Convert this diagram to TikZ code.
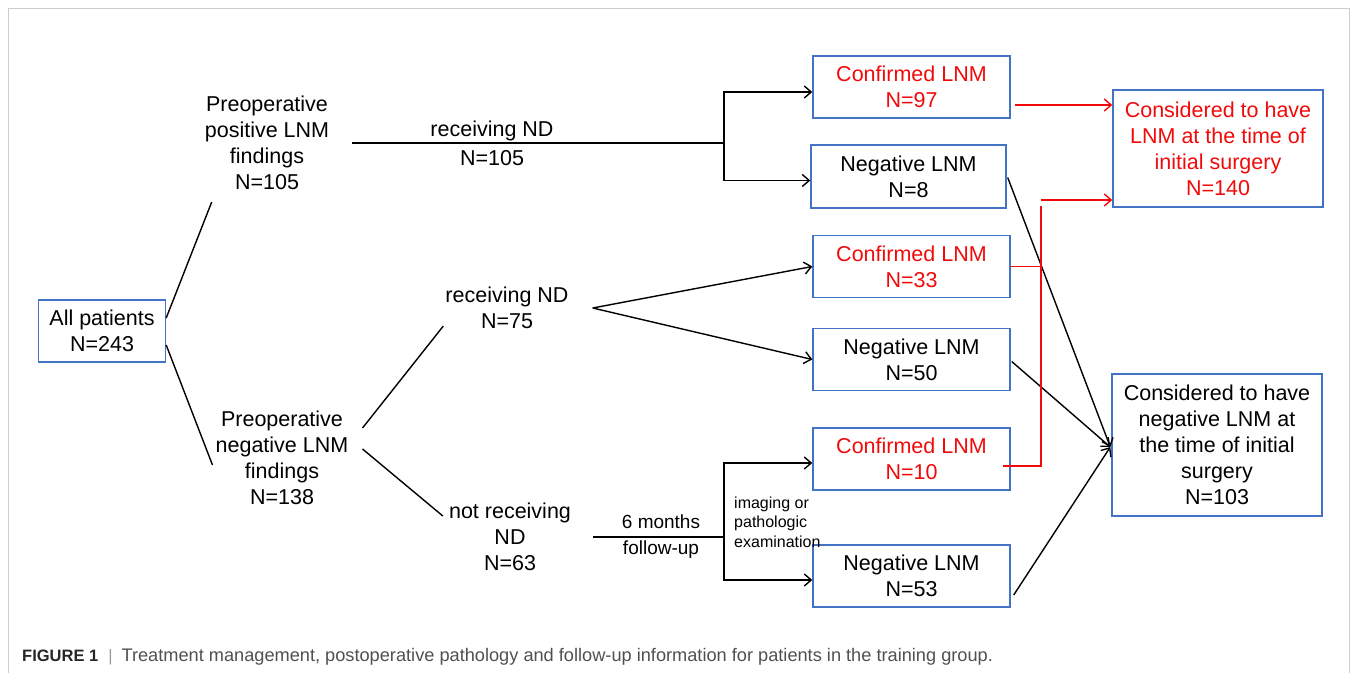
\documentclass[tikz,border=0pt]{standalone}
\usepackage{fontspec}
\setmainfont{Liberation Sans}
\usetikzlibrary{arrows.meta,calc}

\definecolor{boxblue}{RGB}{68,114,196}
\definecolor{lnmred}{RGB}{240,10,10}
\definecolor{framegray}{RGB}{205,205,205}
\definecolor{capgray}{RGB}{80,80,80}

\begin{document}
\begin{tikzpicture}[x=1pt,y=-1pt,
    txt/.style={align=center,inner sep=0pt,font=\fontsize{21.5}{26}\selectfont},
    box/.style={txt,draw=boxblue,line width=1.4pt,minimum width=197pt,minimum height=62pt},
    redtxt/.style={text=lnmred},
    arr/.style={line width=1.4pt,-{Straight Barb[length=7pt,width=12pt]}},
    conn/.style={line width=1.4pt},
    redline/.style={line width=1.4pt,draw=lnmred},
    redarr/.style={redline,-{Straight Barb[length=7pt,width=12pt]}}]
  \useasboundingbox (0,0) rectangle (1356,672);
  \draw[framegray,line width=0.8pt] (8,690) -- (8,8) -- (1349,8) -- (1349,690);

  % boxes
  \node[box,minimum width=127pt] (all) at (102,331) {All patients\\N=243};
  \node[box,redtxt] (conf97) at (911.5,87) {Confirmed LNM\\N=97};
  \node[box,minimum width=195pt,minimum height=63pt] (neg8) at (908.5,176.5) {Negative LNM\\N=8};
  \node[box,redtxt] (conf33) at (911.5,266.5) {Confirmed LNM\\N=33};
  \node[box] (neg50) at (911.5,359.5) {Negative LNM\\N=50};
  \node[box,redtxt] (conf10) at (911.5,459) {Confirmed LNM\\N=10};
  \node[box] (neg53) at (911.5,576) {Negative LNM\\N=53};
  \node[box,redtxt,minimum width=210pt,minimum height=117pt] (lnm) at (1218,148.5)
    {Considered to have\\LNM at the time of\\initial surgery\\N=140};
  \node[box,minimum width=210pt,minimum height=142pt] (nlnm) at (1217,445)
    {Considered to have\\negative LNM at\\the time of initial\\surgery\\N=103};

  % free labels
  \node[txt] (pos) at (267,143) {Preoperative\\positive LNM\\findings\\N=105};
  \node[txt] (neg) at (282,458) {Preoperative\\negative LNM\\findings\\N=138};
  \node[txt] (nd1) at (492,143) {receiving ND\\[3pt]N=105};
  \node[txt] (nd2) at (507,308) {receiving ND\\N=75};
  \node[txt] (nond) at (510,537) {not receiving\\ND\\N=63};
  \node[txt,font=\fontsize{19}{24}\selectfont] (fu) at (661,537) {6 months\\[2pt]follow-up};
  \node[align=left,inner sep=0pt,anchor=west,font=\fontsize{16}{19.5}\selectfont] (img) at (734,522)
    {imaging or\\pathologic\\examination};

  % junctions
  \coordinate (b1) at (724,143);
  \coordinate (b2) at (724,537);
  \coordinate (t1) at ($(conf97.west)+(0,5)$);
  \coordinate (t2) at ($(neg8.west)+(0,4)$);
  \coordinate (t3) at ($(conf10.west)+(0,4)$);
  \coordinate (t4) at ($(neg53.west)+(0,4)$);
  \coordinate (rv) at (1041,206);
  \coordinate (rt) at (1041,200);
  \coordinate (r1) at ($(conf97.east)+(4,18)$);
  \coordinate (m) at ($(nlnm.west)+(-1,2)$);

  % black connectors
  \draw[conn] ([yshift=13pt]all.east) -- ($(pos.south west)+(7,12)$);
  \draw[conn] ([yshift=-14pt]all.east) -- ($(neg.west)+(-3,7)$);
  \draw[conn] ($(pos.east)+(23,0)$) -- (b1);
  \draw[arr] (b1) |- (t1);
  \draw[arr] (b1) |- (t2);
  \draw[conn] ($(neg.east)+(14,-30)$) -- ($(nd2.south west)+(-2,-3)$);
  \draw[conn] ($(neg.east)+(14,-9)$) -- ($(nond.west)+(-6,-21)$);
  \draw[arr] ($(nd2.east)+(24,0)$) -- (conf33.west);
  \draw[arr] ($(nd2.east)+(24,0)$) -- (neg50.west);
  \draw[conn] ($(nond.east)+(22,0)$) -- (b2);
  \draw[arr] (b2) |- (t3);
  \draw[arr] (b2) |- (t4);
  \draw[arr] ($(neg8.east)+(1,1)$) -- (m);
  \draw[arr] ($(neg50.east)+(1,2)$) -- (m);
  \draw[arr] ($(neg53.east)+(3,19)$) -- (m);

  % red connectors
  \draw[redarr] (r1) -- (r1 -| lnm.west);
  \draw[redarr] (rt) -- (rt -| lnm.west);
  \draw[redline] ($(conf10.east)+(-8,7)$) -| (rv);
  \draw[redline] (conf33.east) -- (conf33.east -| rv);

  % caption
  \node[anchor=west,inner sep=0pt] (cap) at (22,657)
    {\fontsize{16.5}{20}\selectfont\textcolor{black!85}{\textbf{FIGURE 1}}\hspace{10pt}\textcolor{black!40}{|}\hspace{9pt}\fontsize{18.2}{20}\selectfont\textcolor{capgray}{Treatment management, postoperative pathology and follow-up information for patients in the training group.}};
\end{tikzpicture}
\end{document}
